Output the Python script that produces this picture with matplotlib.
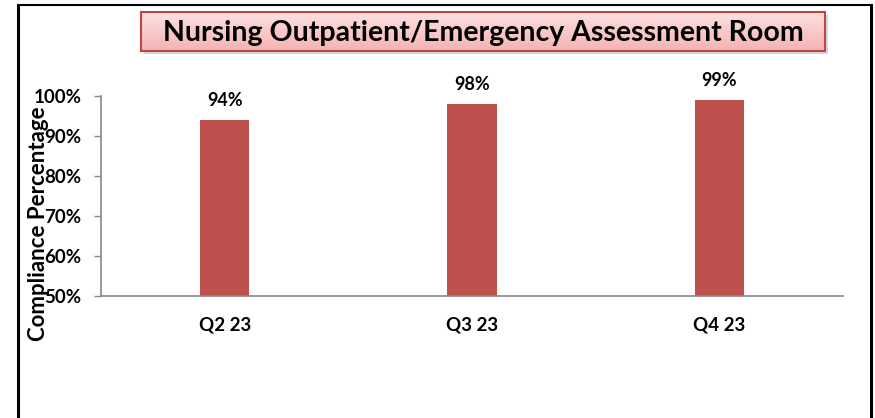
import matplotlib
matplotlib.use("Agg")
import matplotlib.pyplot as plt
import numpy as np
from matplotlib.patches import Rectangle

categories = ["Q2 23", "Q3 23", "Q4 23"]
values = [94, 98, 99]
value_labels = ["94%", "98%", "99%"]
yticks = [50, 60, 70, 80, 90, 100]
ytick_labels = ["50%", "60%", "70%", "80%", "90%", "100%"]
title = "Nursing Outpatient/Emergency Assessment Room"
ylabel = "Compliance Percentage"

W, H = 875, 418
fig = plt.figure(figsize=(W / 100, H / 100), dpi=100)
plt.rcParams['font.family'] = ['Lato', 'DejaVu Sans']

def fx(px):
    return px / W

def fy(py):
    return 1 - py / H

# outer frame (left, top, right)
fig.add_artist(plt.Line2D([fx(18), fx(18)], [0, fy(5)], color='black', lw=2.2))
fig.add_artist(plt.Line2D([fx(871), fx(871)], [0, fy(5)], color='black', lw=2.2))
fig.add_artist(plt.Line2D([fx(18), fx(871)], [fy(5), fy(5)], color='black', lw=1.5))

# main axes
ax = fig.add_axes([fx(101), fy(296), fx(843) - fx(101), fy(96) - fy(296)])
x = np.arange(len(categories))
ax.bar(x, values, width=0.2, color='#C0504D', bottom=0)
ax.set_xlim(-0.5, 2.5)
ax.set_ylim(50, 100)
ax.set_yticks(yticks)
ax.set_yticklabels(ytick_labels, fontsize=13.5, fontweight='bold')
ax.set_xticks(x)
ax.set_xticklabels(categories, fontsize=13.5, fontweight='bold')
ax.tick_params(axis='x', length=0, pad=15)
ax.tick_params(axis='y', length=5, color='#888888', width=1, pad=9)
for s in ['top', 'right']:
    ax.spines[s].set_visible(False)
for s in ['left', 'bottom']:
    ax.spines[s].set_color('#888888')
    ax.spines[s].set_linewidth(1.2)
for xi, v, lab in zip(x, values, value_labels):
    ax.annotate(lab, (xi, v), xytext=(0, 8), textcoords='offset points',
                ha='center', va='bottom', fontsize=13, fontweight='bold', clip_on=False)
fig.text(fx(39), fy(224), ylabel, rotation=90, ha='center', va='center',
         fontsize=16, fontweight='bold')

# title box with shadow and gradient
bx0, bx1, by0, by1 = 141, 825, 12, 51
fig.add_artist(Rectangle((fx(bx0 + 3), fy(by1 + 3)), fx(bx1) - fx(bx0), fy(by0) - fy(by1),
                         transform=fig.transFigure, facecolor='#c8c8c8', edgecolor='none',
                         alpha=0.7, zorder=-5))
tax = fig.add_axes([fx(bx0), fy(by1), fx(bx1) - fx(bx0), fy(by0) - fy(by1)])
tax.set_zorder(5)
grad = np.linspace(0, 1, 100).reshape(-1, 1)
top = np.array([0.99, 0.88, 0.88])
bot = np.array([0.96, 0.70, 0.70])
img = top[None, None, :] * (1 - grad[:, :, None]) + bot[None, None, :] * grad[:, :, None]
tax.imshow(img, aspect='auto', extent=[0, 1, 0, 1])
tax.set_xticks([]); tax.set_yticks([])
for s in tax.spines.values():
    s.set_color('#B84848'); s.set_linewidth(1.5)
tax.text(0.5, 0.46, title, ha='center', va='center', fontsize=20.5, fontweight='bold',
         color='black', transform=tax.transAxes)

fig.savefig("out.png", dpi=100)
